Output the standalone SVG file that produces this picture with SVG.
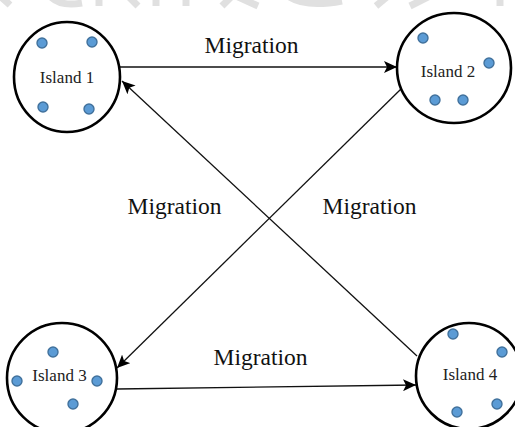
<svg xmlns="http://www.w3.org/2000/svg" width="515" height="427" viewBox="0 0 515 427">
  <style>
    .island { fill: #ffffff; stroke: #000000; stroke-width: 2.6; }
    .dot { fill: #5b9bd5; stroke: #41719c; stroke-width: 1.4; }
    .ilabel { font-family: 'Liberation Serif', serif; font-size: 17px; fill: #222222; text-anchor: middle; }
    .mlabel { font-family: 'Liberation Serif', serif; font-size: 23.5px; fill: #111111; text-anchor: middle; }
    .conn { stroke: #111111; stroke-width: 1.3; fill: none; marker-end: url(#arrow); }
    .wm { fill: none; stroke: #e0e0e0; stroke-width: 7; }
  </style>
  <defs>
    <marker id="arrow" markerUnits="userSpaceOnUse" markerWidth="14" markerHeight="12" refX="13" refY="6" orient="auto">
      <path d="M0,0 L13,6 L0,12 L3,6 Z" fill="#000000"/>
    </marker>
  </defs>
  <rect width="515" height="427" fill="#ffffff"/>

  <g id="watermark">
    <path class="wm" d="M0,-4 L10,5"/>
    <path class="wm" d="M50,-4 Q60,7 82,3"/>
    <path class="wm" d="M99,-4 L99,6"/>
    <path class="wm" d="M128,-4 L138,6"/>
    <path class="wm" d="M156,-4 L156,6"/>
    <path class="wm" d="M186,-4 L186,6"/>
    <path class="wm" d="M232,-4 L222,6"/>
    <path class="wm" d="M236,-4 L258,6"/>
    <path class="wm" d="M288,-4 Q305,8 342,1"/>
    <path class="wm" d="M388,-4 L376,6"/>
    <path class="wm" d="M430,-4 L410,6"/>
    <path class="wm" d="M500,-4 L500,6"/>
  </g>

  <g id="connectors">
    <line class="conn" x1="120" y1="67" x2="397" y2="67"/>
    <line class="conn" x1="417" y1="356" x2="122" y2="81"/>
    <line class="conn" x1="402" y1="88" x2="117" y2="368"/>
    <line class="conn" x1="117" y1="389" x2="416" y2="385"/>
    <text class="mlabel" x="251.5" y="53">Migration</text>
    <text class="mlabel" x="174.5" y="214">Migration</text>
    <text class="mlabel" x="369.5" y="214">Migration</text>
    <text class="mlabel" x="260.5" y="365">Migration</text>
  </g>

  <g id="island1">
    <ellipse class="island" cx="67" cy="77" rx="53" ry="55"/>
    <circle class="dot" cx="42" cy="43" r="5"/>
    <circle class="dot" cx="92" cy="42" r="5"/>
    <circle class="dot" cx="43" cy="107" r="5"/>
    <circle class="dot" cx="89" cy="109" r="5"/>
    <text class="ilabel" x="67" y="83">Island 1</text>
  </g>

  <g id="island2">
    <ellipse class="island" cx="454" cy="68" rx="57" ry="55"/>
    <circle class="dot" cx="423" cy="38" r="5"/>
    <circle class="dot" cx="489" cy="63" r="5"/>
    <circle class="dot" cx="435" cy="100" r="5"/>
    <circle class="dot" cx="463" cy="100" r="5"/>
    <text class="ilabel" x="448" y="77">Island 2</text>
  </g>

  <g id="island3">
    <ellipse class="island" cx="62" cy="378" rx="55" ry="55"/>
    <circle class="dot" cx="53" cy="352" r="5"/>
    <circle class="dot" cx="17" cy="381" r="5"/>
    <circle class="dot" cx="97" cy="381" r="5"/>
    <circle class="dot" cx="73" cy="404" r="5"/>
    <text class="ilabel" x="59.5" y="381">Island 3</text>
  </g>

  <g id="island4">
    <ellipse class="island" cx="469" cy="376" rx="53" ry="53"/>
    <circle class="dot" cx="453" cy="334" r="5"/>
    <circle class="dot" cx="502" cy="352" r="5"/>
    <circle class="dot" cx="497" cy="404" r="5"/>
    <circle class="dot" cx="457" cy="412" r="5"/>
    <text class="ilabel" x="470" y="380">Island 4</text>
  </g>
</svg>
